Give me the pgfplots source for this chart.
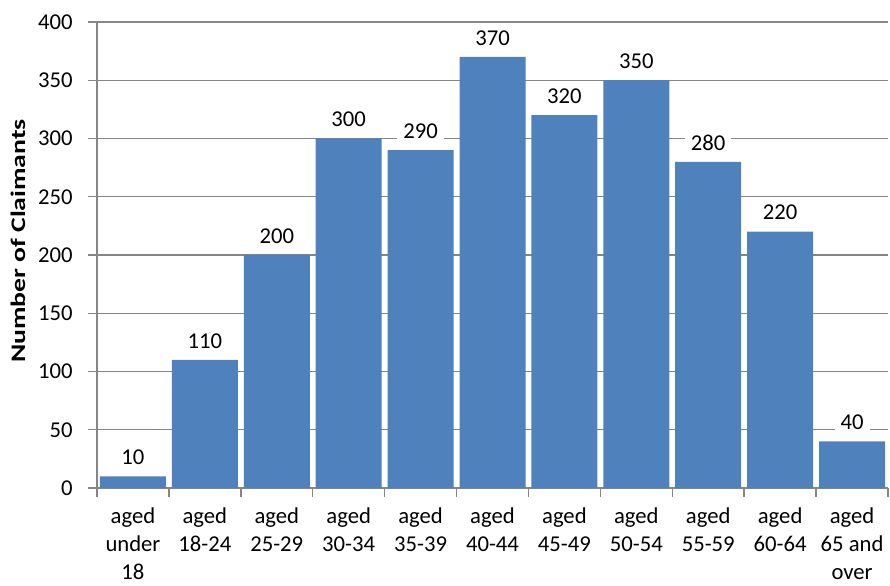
\documentclass[border=0pt]{standalone}
\usepackage{fontspec}
\setmainfont{Carlito}
\usepackage{pgfplots}
\pgfplotsset{compat=1.18}
\definecolor{barblue}{RGB}{79,129,189}
\definecolor{axgray}{RGB}{134,134,134}
\begin{document}
\begin{tikzpicture}
\begin{axis}[
    name=ax,
    scale only axis,
    width=593.25pt, height=349.5pt,
    xmin=-0.5, xmax=10.5,
    ymin=0, ymax=400,
    ytick={0,50,...,400},
    xtick={-0.5,0.5,...,10.5},
    xticklabels={},
    extra x ticks={0,1,...,10},
    extra x tick labels={aged\\under\\18, aged\\18-24, aged\\25-29, aged\\30-34, aged\\35-39,
        aged\\40-44, aged\\45-49, aged\\50-54, aged\\55-59, aged\\60-64, aged\\65 and\\over},
    extra x tick style={major tick length=0pt},
    axis x line*=bottom, axis y line*=left,
    axis line style={axgray, line width=1.1pt},
    tick style={axgray, line width=1.1pt},
    major tick length=6.75pt,
    tick align=outside,
    ymajorgrids,
    grid style={axgray, line width=1.1pt},
    /pgf/number format/assume math mode=true,
    ticklabel style={font=\fontsize{17}{21}\selectfont},
    xticklabel style={align=center, yshift=-11pt},
    yticklabel style={xshift=-8pt},
    every axis y label/.style={at={(axis description cs:-0.0999,0.53)}, anchor=center, rotate=90},
    ylabel={\fontsize{15.5}{18}\selectfont\bfseries\scalebox{1.34}[1]{Number of Claimants}},
    ybar,
    bar width=49.5pt,
    nodes near coords,
    every node near coord/.append style={font=\fontsize{17}{20}\selectfont,
        fill=white, inner xsep=4.5pt, inner ysep=1.5pt, yshift=7pt},
]
\addplot[fill=barblue, draw=none] coordinates {
    (0,10) (1,110) (2,200) (3,300) (4,290) (5,370)
    (6,320) (7,350) (8,280) (9,220) (10,40)
};
\end{axis}
\pgfresetboundingbox
\path ([shift={(-72.75pt,-73.5pt)}]ax.south west) rectangle ([shift={(1.5pt,16.5pt)}]ax.north east);
\end{tikzpicture}
\end{document}
